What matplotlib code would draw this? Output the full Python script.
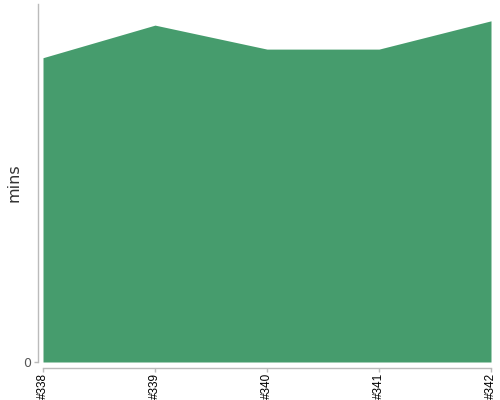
import matplotlib
matplotlib.use("Agg")
import matplotlib.pyplot as plt

builds = ["#338", "#339", "#340", "#341", "#342"]
mins = [85.0, 94.1, 87.4, 87.4, 95.3]
y_ticks = [0]

fig = plt.figure(figsize=(5, 4), dpi=100)
ax = fig.add_axes([43/500, 38/400, 448/500, 358/400])
x = list(range(len(builds)))
ax.fill_between(x, 0, mins, color="#469c6d", linewidth=0)
ax.set_xlim(0, len(builds) - 1)
ax.set_ylim(0, 100)
for s in ["top", "right"]:
    ax.spines[s].set_visible(False)
ax.spines["left"].set_position(("outward", 3.5))
ax.spines["bottom"].set_position(("outward", 4))
for s in ["left", "bottom"]:
    ax.spines[s].set_color("#bbbbbb")
    ax.spines[s].set_linewidth(1)
ax.tick_params(axis="both", color="#bbbbbb", length=3, width=1)
ax.tick_params(axis="x", pad=1)
ax.tick_params(axis="y", pad=2)
ax.set_xticks(x)
ax.set_xticklabels(builds, fontsize=8.5, color="#000000", family="Liberation Sans",
                   rotation=90, ha="center", va="top")
ax.set_yticks(y_ticks)
ax.set_yticklabels([str(v) for v in y_ticks], fontsize=9, color="#555555")
ax.set_ylabel("mins", fontsize=11.5, color="#333333", labelpad=1)
fig.savefig("out.png", dpi=100)
